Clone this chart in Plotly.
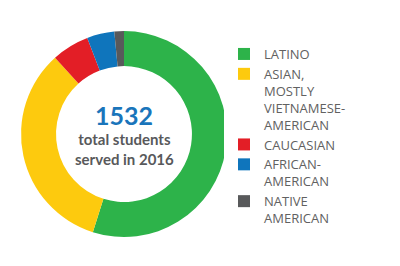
import plotly.graph_objects as go

labels = ["LATINO", "ASIAN,<br>MOSTLY<br>VIETNAMESE-<br>AMERICAN", "CAUCASIAN", "AFRICAN-<br>AMERICAN", "NATIVE<br>AMERICAN"]
values = [841, 512, 90, 66, 23]
colors = ["#2db34a", "#fdca0e", "#e31e26", "#0f75bc", "#58595b"]
total_label = "1532"

fig = go.Figure(go.Pie(
    labels=labels, values=values, sort=False, direction="clockwise", rotation=0,
    hole=0.66, marker=dict(colors=colors, line=dict(width=0)),
    textinfo="none", hoverinfo="label+value",
    domain=dict(x=[0.0525, 0.5675], y=[0.109, 0.883]),
))

fig.add_annotation(x=124/400, y=1 - 115/266, xref="paper", yref="paper", xanchor="center", yanchor="middle",
                   text=f"<b>{total_label}</b>",
                   showarrow=False, font=dict(family="Lato", size=25, color="#1a75bb"))
fig.add_annotation(x=124/400, y=1 - 149/266, xref="paper", yref="paper", xanchor="center", yanchor="middle",
                   text="<b>total students<br>served in 2016</b>", showarrow=False,
                   font=dict(family="Lato", size=15, color="#58595b"))

fig.update_layout(
    width=400, height=266, margin=dict(l=0, r=0, t=0, b=0),
    paper_bgcolor="white", plot_bgcolor="white",
    legend=dict(x=0.56, y=1 - 39/266, xanchor="left", yanchor="top", valign="top",
                font=dict(family="Open Sans", size=13, color="#616161"),
                itemclick=False, tracegroupgap=0),
)
fig.write_html("out.html")
